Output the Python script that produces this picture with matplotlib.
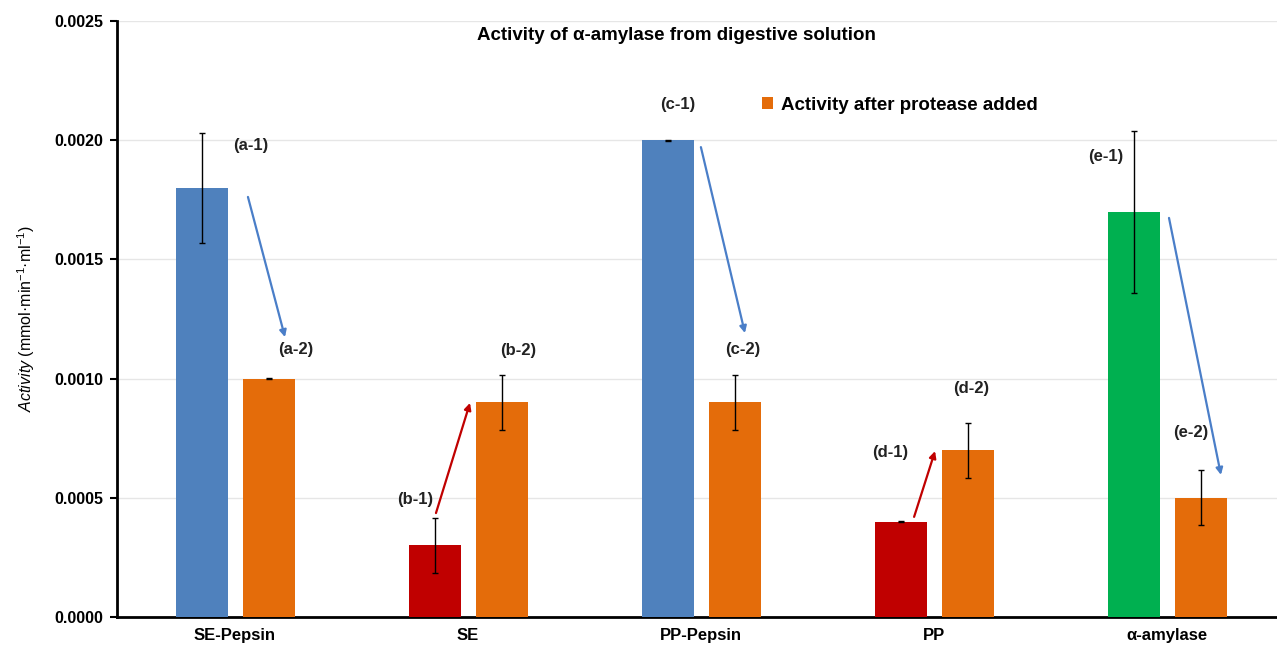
import numpy as np
import matplotlib
matplotlib.use("Agg")
import matplotlib.pyplot as plt

plt.rcParams["font.family"] = ["Liberation Sans", "DejaVu Sans"]
plt.rcParams["mathtext.fontset"] = "custom"
plt.rcParams["mathtext.rm"] = "Liberation Sans"
plt.rcParams["mathtext.it"] = "Liberation Sans:italic"

# data
categories = ["SE-Pepsin", "SE", "PP-Pepsin", "PP", "α-amylase"]
before = [0.0018, 0.0003, 0.0020, 0.0004, 0.0017]
before_err = [0.00023, 0.000117, 0.000002, 0.000002, 0.00034]
after = [0.0010, 0.0009, 0.0009, 0.0007, 0.0005]
after_err = [0.000002, 0.000115, 0.000115, 0.000115, 0.000115]
before_colors = ["#4F81BD", "#C00000", "#4F81BD", "#C00000", "#00B050"]
after_color = "#E46C0A"

# annotation labels and arrows (data coords)
ann_labels = ["(a-1)", "(a-2)", "(b-1)", "(b-2)", "(c-1)", "(c-2)",
              "(d-1)", "(d-2)", "(e-1)", "(e-2)"]
ann_x = [0.075, 0.268, 0.779, 1.221, 1.908, 2.187, 2.818, 3.165, 3.745, 4.110]
ann_y = [0.001976, 0.00112, 0.000491, 0.001116, 0.002148, 0.00112,
         0.000692, 0.00096, 0.00193, 0.000776]
arrow_start = [(0.062, 0.001762), (0.869, 0.000436), (2.006, 0.001971),
               (2.921, 0.00042), (4.015, 0.001674)]
arrow_end = [(0.221, 0.001174), (1.015, 0.000898), (2.195, 0.001191),
             (3.011, 0.000696), (4.238, 0.000596)]
arrow_colors = ["#4A7EC8", "#C00000", "#4A7EC8", "#C00000", "#4A7EC8"]

fig = plt.figure(figsize=(12.77, 6.46), dpi=100)
ax = fig.add_axes([117 / 1277, 29 / 646, 5 * 233 / 1277, 596 / 646])

x = np.arange(len(categories))
off = 0.144
w = 0.223
err_kw = dict(ecolor="black", elinewidth=1, capsize=2, capthick=1)
ax.bar(x - off + 0.008, before, w, color=before_colors, yerr=before_err,
       error_kw=err_kw, zorder=3)
b2 = ax.bar(x + off + 0.008, after, w, color=after_color, yerr=after_err,
            error_kw=err_kw, zorder=3, label="Activity after protease added")

for lab, lx, ly in zip(ann_labels, ann_x, ann_y):
    ax.text(lx, ly, lab, ha="center", va="center", fontsize=12,
            fontweight="bold", color="#222222")

for s, e, c in zip(arrow_start, arrow_end, arrow_colors):
    ax.annotate("", xy=e, xytext=s,
                arrowprops=dict(arrowstyle="-|>", color=c, lw=1.6,
                                mutation_scale=10, shrinkA=0, shrinkB=0))

ax.set_xlim(-0.5, 4.5)
ax.set_ylim(0, 0.0025)
ax.set_yticks(np.arange(0, 0.00251, 0.0005))
ax.set_yticklabels([f"{v:.4f}" for v in np.arange(0, 0.00251, 0.0005)],
                   fontsize=11.5, fontweight="bold")
ax.set_xticks(x + 0.005)
ax.set_xticklabels(categories, fontsize=12, fontweight="bold")
ax.tick_params(axis="x", length=0, pad=8)
ax.tick_params(axis="y", length=5, width=1.5, direction="out", pad=5)
ax.grid(axis="y", color="#E6E6E6", lw=1, zorder=0)
for sp in ["top", "right"]:
    ax.spines[sp].set_visible(False)
for sp in ["left", "bottom"]:
    ax.spines[sp].set_linewidth(2)

ax.set_ylabel(r"$\mathit{Activity}$ (mmol·min$^{\mathregular{-1}}$·ml$^{\mathregular{-1}}$)",
              fontsize=11.5, labelpad=12)

fig.text(676 / 1277, 1 - 36 / 646, "Activity of α-amylase from digestive solution",
         ha="center", va="center", fontsize=13.5, fontweight="bold")

ax.legend(handles=[b2], loc="center left",
          bbox_to_anchor=(745 / 1277, 1 - 105 / 646), bbox_transform=fig.transFigure,
          frameon=False, handlelength=0.6, handleheight=0.6, handletextpad=0.4,
          prop=dict(size=13.5, weight="bold"))

fig.savefig("out.png", dpi=100)
